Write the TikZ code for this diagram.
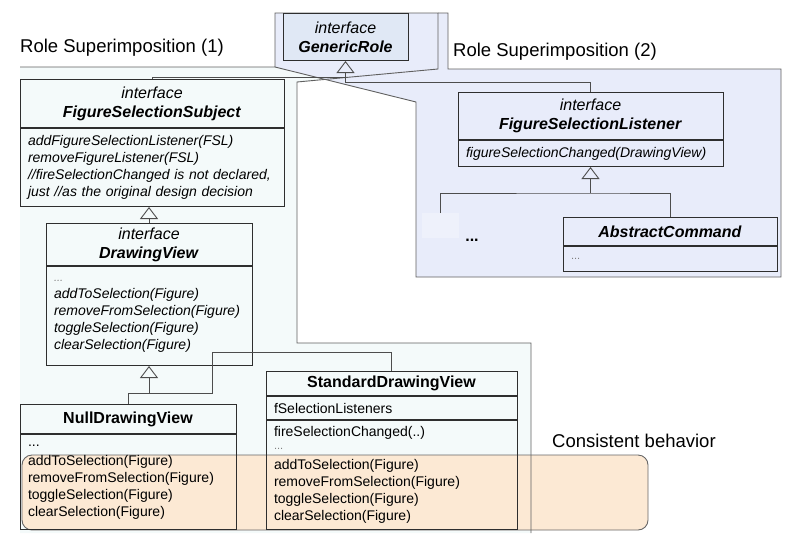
\documentclass[tikz,border=0pt]{standalone}
\usepackage{fontspec}
\setmainfont{Liberation Sans}
\usepackage{xcolor}
\usetikzlibrary{positioning, arrows.meta}
\definecolor{roleone}{HTML}{F4FAFA}
\definecolor{roletwo}{HTML}{E8ECFA}
\definecolor{grfill}{HTML}{E0E8F5}
\definecolor{behavfill}{HTML}{FCE9D4}
\definecolor{boxline}{HTML}{2E2E2E}
\tikzstyle{umlhead}=[draw=boxline, line width=1pt, inner sep=0pt, align=center, font=\fontsize{16}{19}\selectfont]
\tikzstyle{umltitle}=[umlhead, font=\fontsize{16}{19}\selectfont\bfseries]
\tikzstyle{umlbody}=[draw=boxline, line width=1pt, inner xsep=8pt, inner ysep=0pt, align=left, font=\fontsize{14}{17}\selectfont]
\tikzstyle{iumlbody}=[umlbody, font=\fontsize{14}{17}\selectfont\itshape]
\tikzstyle{uline}=[draw=boxline!85, line width=0.9pt]
\tikzstyle{inherit}=[uline, -{Triangle[open, length=12pt, width=18pt]}]
\tikzstyle{region}=[draw=gray!75!black, line width=0.9pt]
\tikzstyle{behav}=[draw=gray!80!black, fill=behavfill, rounded corners=10pt, line width=0.9pt]
\tikzstyle{arealabel}=[anchor=west, inner sep=0pt, font=\fontsize{18.5}{20}\selectfont]
\newcommand{\idots}{{\color{gray}\fontsize{11}{11}\selectfont ...}}

\begin{document}
\begin{tikzpicture}[x=1pt, y=-1pt]
	\useasboundingbox (0,0) rectangle (794,538);
	% role areas
	\fill[roleone] (20,67) -- (275,67) -- (275,13) -- (438,13) -- (438,69) -- (297,82) -- (297,343) -- (531,343) -- (531,533) -- (20,533) -- cycle;
	\fill[roletwo] (448,13) -- (448,69) -- (781,69) -- (781,277) -- (416,277) -- (416,102) -- (275,67) -- (275,13) -- cycle;
	\node[behav, minimum width=626pt, minimum height=75pt] (consist) at (335,492.5) {};
	\draw[region] (20,67) -- (275,67) -- (275,13) -- (438,13) -- (438,69) -- (297,82) -- (297,343) -- (531,343) -- (531,533);
	\draw[region] (438,13) -- (448,13) -- (448,69) -- (781,69) -- (781,277) -- (416,277) -- (416,102) -- (275,67);
	\node[arealabel] (roleonelabel) at (20,48) {Role Superimposition (1)};
	\node[arealabel] (roletwolabel) at (453,52) {Role Superimposition (2)};
	\node[arealabel] (cblabel) at (552,441) {Consistent behavior};

	% classes
	\node[umlhead, fill=grfill, minimum width=125pt, minimum height=47pt, anchor=north] (gr) at (345.5,13) {\textit{interface}\\\textbf{\textit{GenericRole}}};

	\node[umlhead, minimum width=264pt, minimum height=48pt, anchor=north] (fss) at (152,79) {\textit{interface}\\\textbf{\textit{FigureSelectionSubject}}};
	\node[iumlbody, text width=248pt, minimum height=78pt, below=0pt of fss] (fssops) {addFigureSelectionListener(FSL)\\removeFigureListener(FSL)\\//fireSelectionChanged is not declared,\\just //as the original design decision};

	\node[umlhead, minimum width=206pt, minimum height=42pt, anchor=north] (dv) at (149,223) {\textit{interface}\\\textbf{\textit{DrawingView}}};
	\node[iumlbody, text width=190pt, minimum height=99pt, below=0pt of dv] (dvops) {\idots\\addToSelection(Figure)\\removeFromSelection(Figure)\\toggleSelection(Figure)\\clearSelection(Figure)};

	\node[umltitle, minimum width=216pt, minimum height=29pt, anchor=north] (ndv) at (128,404) {NullDrawingView};
	\node[umlbody, text width=200pt, minimum height=95pt, below=0pt of ndv] (ndvops) {...\\[2pt]addToSelection(Figure)\\removeFromSelection(Figure)\\toggleSelection(Figure)\\clearSelection(Figure)};

	\node[umltitle, minimum width=251pt, minimum height=24pt, anchor=north] (sdv) at (391.5,371) {StandardDrawingView};
	\node[umlbody, text width=235pt, minimum height=23pt, below=0pt of sdv] (sdvattr) {fSelectionListeners};
	\node[umlbody, text width=235pt, minimum height=109pt, below=0pt of sdvattr] (sdvops) {fireSelectionChanged(..)\\[-4pt]\idots\\[3pt]addToSelection(Figure)\\removeFromSelection(Figure)\\toggleSelection(Figure)\\clearSelection(Figure)};

	\node[umlhead, minimum width=265pt, minimum height=47pt, anchor=north] (fsl) at (590.5,92) {\textit{interface}\\\textbf{\textit{FigureSelectionListener}}};
	\node[iumlbody, text width=249pt, minimum height=26pt, below=0pt of fsl] (fslops) {figureSelectionChanged(DrawingView)};

	\node[umltitle, minimum width=214pt, minimum height=28pt, anchor=north] (ac) at (670,217) {\textit{AbstractCommand}};
	\node[umlbody, text width=198pt, minimum height=25pt, below=0pt of ac] (acops) {\idots};

	\node[fill=roletwo!75!white, minimum width=37pt, minimum height=25pt, anchor=north] (others) at (440.5,213) {};
	\node[font=\fontsize{16}{16}\selectfont\bfseries, inner sep=0pt] (otherdots) at (472,240) {...};

	% generalisations
	\coordinate (grjoin) at (345.5,77);
	\coordinate (grstem) at (345.5,82);
	\draw[uline] (fss.north) |- (grjoin);
	\draw[inherit] (fsl.north) |- (grstem) -- (gr.south);

	\draw[inherit] (dv.north) -- (dv.north |- fssops.south);

	\coordinate (dvjoin) at (149,393);
	\coordinate (sdvbend) at (212,352);
	\draw[uline] (ndv.north) |- (dvjoin);
	\draw[uline] (sdv.north) |- (sdvbend) |- (dvjoin);
	\draw[inherit] (dvjoin) -- (dvops.south);

	\coordinate (fsljoin) at (590.5,193);
	\draw[uline] (others.north) |- (fsljoin) -| (ac.north);
	\draw[inherit] (fsljoin) -- (fslops.south);
\end{tikzpicture}
\end{document}
